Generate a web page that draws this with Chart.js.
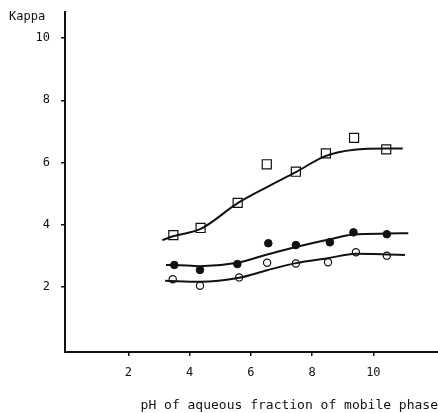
<!DOCTYPE html>
<html>
<head>
<meta charset="utf-8">
<script src="https://cdn.jsdelivr.net/npm/chart.js@4/dist/chart.umd.min.js"></script>
<style>
html,body{margin:0;padding:0;background:#fff;}
canvas{display:block;}
</style>
</head>
<body>
<canvas id="c" width="438" height="413"></canvas>
<script>
// Tick labels
const xTicks = [2, 4, 6, 8, 10];
const yTicks = [2, 4, 6, 8, 10];

// Measured points: square markers
const squareX = [3.47, 4.36, 5.57, 6.52, 7.47, 8.45, 9.37, 10.42];
const squareY = [3.66, 3.89, 4.70, 5.94, 5.70, 6.29, 6.79, 6.42];

// Measured points: filled circles
const filledX = [3.50, 4.34, 5.56, 6.57, 7.47, 8.58, 9.35, 10.44];
const filledY = [2.70, 2.54, 2.73, 3.40, 3.34, 3.43, 3.75, 3.69];

// Measured points: open circles
const openX = [3.45, 4.34, 5.62, 6.53, 7.47, 8.52, 9.43, 10.44];
const openY = [2.24, 2.03, 2.30, 2.77, 2.75, 2.79, 3.11, 3.00];

// Fitted curves
const squareCurveX = [3.11, 3.49, 4.36, 5.57, 6.51, 7.47, 8.45, 9.37, 10.42, 10.96];
const squareCurveY = [3.50, 3.63, 3.86, 4.69, 5.20, 5.69, 6.21, 6.41, 6.45, 6.45];

const filledCurveX = [3.23, 3.50, 4.34, 5.56, 6.51, 7.47, 8.58, 9.35, 10.44, 11.14];
const filledCurveY = [2.70, 2.70, 2.66, 2.77, 3.03, 3.28, 3.53, 3.68, 3.71, 3.72];

const openCurveX = [3.20, 4.34, 5.62, 6.53, 7.47, 8.52, 9.43, 10.44, 11.03];
const openCurveY = [2.19, 2.16, 2.29, 2.53, 2.76, 2.92, 3.06, 3.04, 3.02];

const pts = (xs, ys) => xs.map((x, i) => ({x: x, y: ys[i]}));
const INK = '#111';
const FONT = "'DejaVu Sans Mono', 'Liberation Mono', monospace";

const curve = (xs, ys) => ({
  data: pts(xs, ys), showLine: true, borderColor: INK, borderWidth: 2,
  pointRadius: 0, tension: 0.4, cubicInterpolationMode: 'monotone', fill: false
});

const kappaLabel = {
  id: 'kappaLabel',
  afterDraw(chart) {
    const ctx = chart.ctx;
    ctx.save();
    ctx.fillStyle = INK;
    ctx.font = "12px " + FONT;
    ctx.textBaseline = 'middle';
    ctx.textAlign = 'left';
    ctx.fillText('Kappa', 9, 17);
    ctx.restore();
  }
};

new Chart(document.getElementById('c'), {
  type: 'scatter',
  data: {
    datasets: [
      curve(squareCurveX, squareCurveY),
      curve(filledCurveX, filledCurveY),
      curve(openCurveX, openCurveY),
      { data: pts(squareX, squareY), pointStyle: 'rect', pointRadius: 6.4,
        backgroundColor: '#fff', borderColor: INK, borderWidth: 1.2, showLine: false },
      { data: pts(filledX, filledY), pointStyle: 'circle', pointRadius: 3.8,
        backgroundColor: INK, borderColor: INK, borderWidth: 1, showLine: false },
      { data: pts(openX, openY), pointStyle: 'circle', pointRadius: 3.6,
        backgroundColor: '#fff', borderColor: INK, borderWidth: 1.2, showLine: false }
    ]
  },
  options: {
    responsive: false,
    animation: false,
    events: [],
    layout: { autoPadding: false, padding: { top: 12, right: 0, left: 0, bottom: 0 } },
    plugins: { legend: { display: false }, tooltip: { enabled: false } },
    scales: {
      x: {
        type: 'linear', min: -0.067, max: 12.11,
        afterBuildTicks: s => { s.ticks = xTicks.map(v => ({value: v})); },
        afterFit: s => { s.height = 61; s.paddingLeft = 0; s.paddingRight = 0; },
        grid: { display: true, drawOnChartArea: false, drawTicks: true, tickLength: 4, color: INK, lineWidth: 1.5 },
        border: { display: true, color: INK, width: 2 },
        ticks: { color: INK, font: { family: FONT, size: 12 }, padding: 10, maxRotation: 0 },
        title: { display: true, text: 'pH of aqueous fraction of mobile phase', align: 'end',
                 color: INK, font: { family: FONT, size: 13 }, padding: { top: 0, bottom: 0 } }
      },
      y: {
        type: 'linear', min: -0.1, max: 10.84,
        afterBuildTicks: s => { s.ticks = yTicks.map(v => ({value: v})); },
        afterFit: s => { s.width = 65; s.paddingTop = 0; s.paddingBottom = 0; },
        grid: { display: true, drawOnChartArea: false, drawTicks: true, tickLength: 4, color: INK, lineWidth: 1.5 },
        border: { display: true, color: INK, width: 2 },
        ticks: { color: INK, font: { family: FONT, size: 12 }, padding: 11 }
      }
    }
  },
  plugins: [kappaLabel]
});
</script>
</body>
</html>
